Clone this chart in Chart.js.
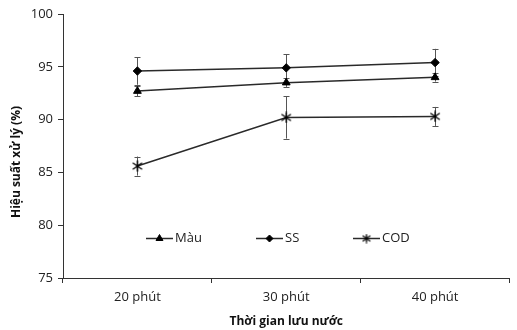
<!DOCTYPE html>
<html>
<head>
<meta charset="utf-8">
<title>Hiệu suất xử lý</title>
<script src="https://cdn.jsdelivr.net/npm/chart.js"></script>
<style>
    html, body { margin: 0; padding: 0; background: #fff; }
    #wrap { width: 517px; height: 330px; }
</style>
</head>
<body>
<div id="wrap"><canvas id="chart"></canvas></div>
<script>
// values
var times = ['20 phút', '30 phút', '40 phút'];
var mau = [92.7, 93.5, 94.0];
var mauErr = [0.5, 0.4, 0.4];
var ss = [94.6, 94.9, 95.4];
var ssErr = [1.3, 1.3, 1.3];
var cod = [85.6, 90.2, 90.3];
var codErr = [0.9, 2.0, 0.9];
var yTicks = [75, 80, 85, 90, 95, 100];

var ink = '#222';
var lineCol = '#2a2a2a';

// asterisk marker (X with a vertical stroke) for COD
function asterisk(size) {
    var c = document.createElement('canvas');
    c.width = size; c.height = size;
    var g = c.getContext('2d');
    var m = size / 2, r = size / 2 - 0.5;
    g.strokeStyle = '#000';
    g.lineWidth = 1.3;
    g.beginPath();
    g.moveTo(m - r * 0.85, m - r * 0.6); g.lineTo(m + r * 0.85, m + r * 0.6);
    g.moveTo(m + r * 0.85, m - r * 0.6); g.lineTo(m - r * 0.85, m + r * 0.6);
    g.moveTo(m, m - r); g.lineTo(m, m + r);
    g.stroke();
    return c;
}

// error bars, drawn under the markers
var errorBars = {
    id: 'errorBars',
    beforeDatasetsDraw: function(chart) {
        var ctx = chart.ctx, y = chart.scales.y;
        ctx.save();
        ctx.strokeStyle = '#555';
        ctx.lineWidth = 1;
        chart.data.datasets.forEach(function(ds, i) {
            var meta = chart.getDatasetMeta(i);
            meta.data.forEach(function(pt, j) {
                var top = y.getPixelForValue(ds.data[j] + ds.errors[j]);
                var bot = y.getPixelForValue(ds.data[j] - ds.errors[j]);
                var x = Math.round(pt.x) + 0.5;
                ctx.beginPath();
                ctx.moveTo(x, top); ctx.lineTo(x, bot);
                ctx.moveTo(x - 3, Math.round(top) + 0.5); ctx.lineTo(x + 3, Math.round(top) + 0.5);
                ctx.moveTo(x - 3, Math.round(bot) + 0.5); ctx.lineTo(x + 3, Math.round(bot) + 0.5);
                ctx.stroke();
            });
        });
        ctx.restore();
    }
};

// legend sits inside the plot, plus the rotated y title
var extras = {
    id: 'extras',
    afterDraw: function(chart, args, opts) {
        var ctx = chart.ctx;
        ctx.save();
        ctx.font = '13px "Open Sans"';
        ctx.textBaseline = 'middle';
        chart.data.datasets.forEach(function(ds, i) {
            var x = opts.legendX[i], y = opts.legendY;
            ctx.strokeStyle = lineCol;
            ctx.lineWidth = 1.5;
            ctx.beginPath(); ctx.moveTo(x, y); ctx.lineTo(x + 27, y); ctx.stroke();
            ctx.fillStyle = '#000';
            ctx.strokeStyle = '#000';
            ctx.lineWidth = 1;
            Chart.helpers.drawPoint(ctx, {
                pointStyle: ds.legendStyle || ds.pointStyle,
                radius: ds.legendRadius,
                borderWidth: 1,
                rotation: 0
            }, x + 13.5, y);
            ctx.fillStyle = ink;
            ctx.fillText(ds.label, x + 29, y);
        });

        ctx.font = 'bold 12px "Open Sans"';
        ctx.fillStyle = '#111';
        ctx.textAlign = 'center';
        ctx.translate(opts.titleX, opts.titleY);
        ctx.rotate(-Math.PI / 2);
        ctx.fillText('Hiệu suất xử lý (%)', 0, 0);
        ctx.restore();
    }
};

var ctx = document.getElementById('chart').getContext('2d');
new Chart(ctx, {
    type: 'line',
    data: {
        labels: times,
        datasets: [{
            label: 'Màu',
            data: mau,
            errors: mauErr,
            borderColor: lineCol,
            borderWidth: 1.5,
            pointStyle: 'triangle',
            pointRadius: 4.5,
            legendRadius: 4,
            pointBackgroundColor: '#000',
            pointBorderColor: '#000',
            pointBorderWidth: 1
        }, {
            label: 'SS',
            data: ss,
            errors: ssErr,
            borderColor: lineCol,
            borderWidth: 1.5,
            pointStyle: 'rectRot',
            pointRadius: 4.2,
            legendRadius: 3.5,
            pointBackgroundColor: '#000',
            pointBorderColor: '#000',
            pointBorderWidth: 1
        }, {
            label: 'COD',
            data: cod,
            errors: codErr,
            borderColor: lineCol,
            borderWidth: 1.5,
            pointStyle: asterisk(12),
            legendStyle: asterisk(10),
            pointRadius: 6,
            legendRadius: 5
        }]
    },
    options: {
        responsive: true,
        maintainAspectRatio: false,
        animation: false,
        devicePixelRatio: 1,
        layout: { padding: { top: 14, right: 0, bottom: 0, left: 0 } },
        plugins: {
            legend: { display: false },
            tooltip: { enabled: false },
            extras: { legendX: [146, 256, 353], legendY: 238.5, titleX: 17, titleY: 162 }
        },
        scales: {
            x: {
                offset: true,
                grid: { offset: true, drawOnChartArea: false, tickLength: 5, color: '#333' },
                border: { color: '#333', width: 1 },
                ticks: { color: ink, font: { family: 'Open Sans', size: 13 }, padding: 6 },
                title: {
                    display: true,
                    text: 'Thời gian lưu nước',
                    color: '#111',
                    font: { family: 'Open Sans', size: 12, weight: 'bold' },
                    padding: { top: 0, bottom: 1 }
                },
                afterFit: function(s) { s.height = 52; }
            },
            y: {
                min: 75,
                max: 100,
                afterBuildTicks: function(s) { s.ticks = yTicks.map(function(v) { return { value: v }; }); },
                grid: { drawOnChartArea: false, tickLength: 5, color: '#333' },
                border: { color: '#333', width: 1 },
                ticks: { color: ink, font: { family: 'Open Sans', size: 13 }, padding: 5 },
                afterFit: function(s) { s.width = 63; }
            }
        }
    },
    plugins: [errorBars, extras]
});
</script>
</body>
</html>
